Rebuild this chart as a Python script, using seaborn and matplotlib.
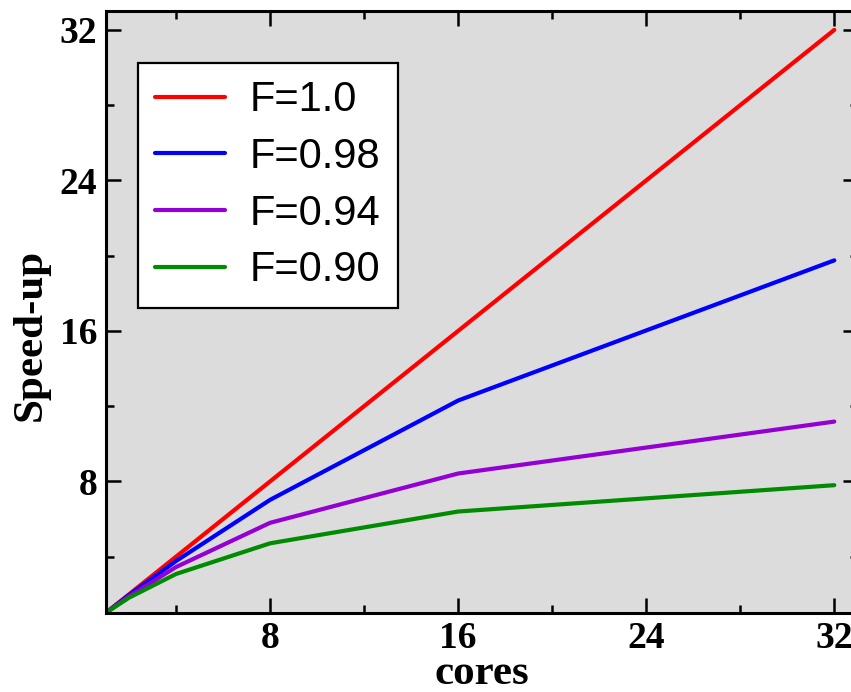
import matplotlib
matplotlib.use("Agg")
import matplotlib.pyplot as plt
import seaborn as sns
import pandas as pd
from matplotlib.ticker import MultipleLocator

# Amdahl speed-up curves
cores = [1, 2, 4, 8, 16, 32]
speedup_f100 = [1, 2, 4, 8, 16, 32]
speedup_f098 = [1, 1.96, 3.77, 7.02, 12.3, 19.75]
speedup_f094 = [1, 1.89, 3.45, 5.80, 8.42, 11.18]
speedup_f090 = [1, 1.82, 3.08, 4.71, 6.40, 7.80]

labels = ["F=1.0", "F=0.98", "F=0.94", "F=0.90"]
colors = ["#ff0000", "#0000ff", "#9400d3", "#008b00"]

frames = []
for lab, vals in zip(labels, [speedup_f100, speedup_f098, speedup_f094, speedup_f090]):
    frames.append(pd.DataFrame({"cores": cores, "speedup": vals, "series": lab}))
df = pd.concat(frames, ignore_index=True)

sns.set_style("ticks")
plt.rcParams["font.family"] = ["Liberation Serif", "DejaVu Serif"]
plt.rcParams["text.color"] = "black"
plt.rcParams["axes.labelcolor"] = "black"
plt.rcParams["xtick.color"] = "black"
plt.rcParams["ytick.color"] = "black"

fig = plt.figure(figsize=(8.51, 6.92), dpi=100)
ax = fig.add_axes([0.124, 0.114, 0.884, 0.870])
ax.set_facecolor("#dcdcdc")

sns.lineplot(data=df, x="cores", y="speedup", hue="series", hue_order=labels,
             palette=dict(zip(labels, colors)), linewidth=3.0, ax=ax,
             legend=True)

ax.set_xlim(1, 33)
ax.set_ylim(1, 33)
ax.set_xticks([8, 16, 24, 32])
ax.set_yticks([8, 16, 24, 32])
ax.xaxis.set_minor_locator(MultipleLocator(4))
ax.yaxis.set_minor_locator(MultipleLocator(4))

for sp in ax.spines.values():
    sp.set_linewidth(2.2)
    sp.set_color("black")
    sp.set_visible(True)

ax.tick_params(which="both", direction="in", top=True, right=True,
               color="black", labelcolor="black")
ax.tick_params(which="major", length=11, width=1.8, labelsize=27, pad=6)
ax.tick_params(which="minor", length=6, width=1.8)
for lbl in ax.get_xticklabels() + ax.get_yticklabels():
    lbl.set_fontweight("bold")

ax.set_xlabel("cores", fontsize=31, fontweight="bold", labelpad=-1)
ax.set_ylabel("Speed-up", fontsize=31, fontweight="bold")
ax.yaxis.set_label_coords(-0.074, 0.462)

leg = ax.legend(loc="upper left", bbox_to_anchor=(0.043, 0.914), borderaxespad=0,
                prop={"family": "Liberation Sans", "size": 30},
                handlelength=1.68, handletextpad=0.58, labelspacing=0.4,
                borderpad=0.42, fancybox=False, framealpha=1)
leg.get_frame().set_edgecolor("black")
leg.get_frame().set_linewidth(1.6)
for line in leg.get_lines():
    line.set_linewidth(3.0)
for txt in leg.get_texts():
    txt.set_color("black")

fig.savefig("out.png", dpi=100, facecolor="white")
